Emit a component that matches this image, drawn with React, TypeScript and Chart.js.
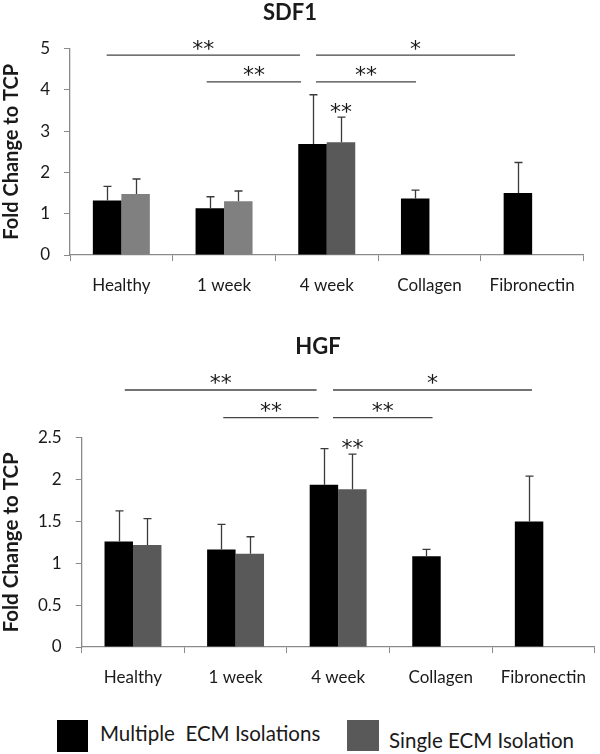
import React, { useEffect, useRef } from 'react';
import { Chart, registerables } from 'chart.js';

Chart.register(...registerables);

// ---------- data ----------
const categories = ['Healthy', '1 week', '4 week', 'Collagen', 'Fibronectin'];
const seriesNames = ['Multiple  ECM Isolations', 'Single ECM Isolation'];

const sdf1Multiple = [1.32, 1.13, 2.69, 1.37, 1.5];
const sdf1MultipleErr = [0.34, 0.28, 1.19, 0.2, 0.74];
const sdf1Single = [1.48, 1.3, 2.73, null, null];
const sdf1SingleErr = [0.36, 0.25, 0.61, null, null];
const sdf1Ticks = [0, 1, 2, 3, 4, 5];

const hgfMultiple = [1.26, 1.165, 1.937, 1.085, 1.5];
const hgfMultipleErr = [0.365, 0.3, 0.433, 0.08, 0.54];
const hgfSingle = [1.217, 1.113, 1.885, null, null];
const hgfSingleErr = [0.316, 0.204, 0.42, null, null];
const hgfTicks = [0, 0.5, 1, 1.5, 2, 2.5];

// significance brackets: from/to in category index units, y in data units
const sdf1Brackets = [
  { from: -0.143, to: 1.74, y: 4.84, label: '**' },
  { from: 1.896, to: 3.833, y: 4.84, label: '*' },
  { from: 0.831, to: 1.75, y: 4.19, label: '**' },
  { from: 1.896, to: 2.869, y: 4.19, label: '**' },
];
const sdf1Stars = [{ category: 2, dataset: 1, y: 3.56, label: '**' }];

const hgfBrackets = [
  { from: -0.08, to: 1.79, y: 3.07, label: '**' },
  { from: 1.95, to: 3.89, y: 3.07, label: '*' },
  { from: 0.88, to: 1.81, y: 2.74, label: '**' },
  { from: 1.95, to: 2.92, y: 2.74, label: '**' },
];
const hgfStars = [{ category: 2, dataset: 1, y: 2.43, label: '**' }];

// ---------- styling ----------
const FONT = 'Lato, "Open Sans", sans-serif';
const STAR_FONT = '"DejaVu Sans", sans-serif';
const TEXT = '#1a1a1a';
const AXIS = '#8a8a8a';
const ERR = '#3a3a3a';

type Bracket = { from: number; to: number; y: number; label: string };
type Star = { category: number; dataset: number; y: number; label: string };

function drawStar(ctx: CanvasRenderingContext2D, text: string, x: number, cy: number) {
  ctx.font = `22px ${STAR_FONT}`;
  ctx.fillStyle = TEXT;
  ctx.textAlign = 'center';
  ctx.textBaseline = 'alphabetic';
  const m = ctx.measureText(text);
  const asc = m.actualBoundingBoxAscent;
  const desc = m.actualBoundingBoxDescent;
  ctx.fillText(text, x, cy + (asc - desc) / 2);
}

function makeOverlay(
  errors: (number | null)[][],
  brackets: Bracket[],
  stars: Star[],
  title: { text: string; x: number; y: number }
) {
  return {
    id: 'overlay',
    afterDatasetsDraw(chart: any) {
      const ctx: CanvasRenderingContext2D = chart.ctx;
      const xs = chart.scales.x;
      const ys = chart.scales.y;
      ctx.save();
      // error bars (upper only)
      chart.data.datasets.forEach((ds: any, di: number) => {
        const meta = chart.getDatasetMeta(di);
        meta.data.forEach((el: any, i: number) => {
          const v = ds.data[i];
          const e = errors[di][i];
          if (v == null || e == null) return;
          const px = Math.round(el.x) + 0.5;
          const top = ys.getPixelForValue(v + e);
          ctx.strokeStyle = ERR;
          ctx.lineWidth = 1.3;
          ctx.beginPath();
          ctx.moveTo(px, el.y);
          ctx.lineTo(px, top);
          ctx.moveTo(px - 4, top);
          ctx.lineTo(px + 4, top);
          ctx.stroke();
        });
      });
      // brackets
      brackets.forEach((b) => {
        const x1 = xs.getPixelForValue(b.from);
        const x2 = xs.getPixelForValue(b.to);
        const y = ys.getPixelForValue(b.y);
        ctx.strokeStyle = '#444';
        ctx.lineWidth = 1.3;
        ctx.beginPath();
        ctx.moveTo(x1, y);
        ctx.lineTo(x2, y);
        ctx.stroke();
        drawStar(ctx, b.label, (x1 + x2) / 2, y - 10.5);
      });
      // stars above bars
      stars.forEach((s) => {
        const el = chart.getDatasetMeta(s.dataset).data[s.category];
        drawStar(ctx, s.label, el.x, ys.getPixelForValue(s.y));
      });
      // title
      ctx.font = `bold 22px ${FONT}`;
      ctx.fillStyle = TEXT;
      ctx.textAlign = 'center';
      ctx.textBaseline = 'middle';
      ctx.fillText(title.text, title.x, title.y);
      ctx.restore();
    },
  };
}

type PanelProps = {
  top: number;
  height: number;
  multiple: (number | null)[];
  single: (number | null)[];
  multipleErr: (number | null)[];
  singleErr: (number | null)[];
  singleColors: string[];
  ticks: number[];
  brackets: Bracket[];
  stars: Star[];
  title: { text: string; x: number; y: number };
  pad: { top: number; right: number };
  yWidth: number;
  yTitlePad: number;
  yTitleSize: number;
};

function Panel(p: PanelProps) {
  const ref = useRef<HTMLCanvasElement>(null);
  useEffect(() => {
    if (!ref.current) return;
    const step = p.ticks[1] - p.ticks[0];
    const chart = new Chart(ref.current, {
      type: 'bar',
      data: {
        labels: categories,
        datasets: [
          {
            label: seriesNames[0],
            data: p.multiple as any,
            backgroundColor: '#000000',
            borderWidth: 0,
            categoryPercentage: 0.555,
            barPercentage: 1.0,
          },
          {
            label: seriesNames[1],
            data: p.single as any,
            backgroundColor: p.singleColors,
            borderWidth: 0,
            categoryPercentage: 0.555,
            barPercentage: 1.0,
          },
        ],
      },
      options: {
        animation: false,
        responsive: false,
        devicePixelRatio: 1,
        layout: { padding: { top: p.pad.top, right: p.pad.right, left: 0, bottom: 0 } },
        plugins: {
          legend: { display: false },
          tooltip: { enabled: false },
          title: { display: false },
        },
        scales: {
          x: {
            grid: {
              display: true,
              drawOnChartArea: false,
              drawTicks: true,
              tickLength: 6,
              color: AXIS,
              offset: true,
            },
            border: { color: AXIS, width: 1.3 },
            ticks: { font: { family: FONT, size: 17 }, color: TEXT, padding: 14, maxRotation: 0 },
            afterFit: (s: any) => {
              s.height = 45;
            },
          },
          y: {
            min: p.ticks[0],
            max: p.ticks[p.ticks.length - 1],
            ticks: {
              stepSize: step,
              font: { family: FONT, size: 17 },
              color: TEXT,
              padding: 14,
              callback: (v: any) => String(Number(v)),
            },
            grid: {
              display: true,
              drawOnChartArea: false,
              drawTicks: true,
              tickLength: 6,
              color: AXIS,
            },
            border: { color: AXIS, width: 1.3 },
            title: {
              display: true,
              text: 'Fold Change to TCP',
              font: { family: FONT, size: p.yTitleSize, weight: 'bold' },
              color: TEXT,
              padding: { top: p.yTitlePad, bottom: 0 },
            },
            afterFit: (s: any) => {
              s.width = p.yWidth;
            },
          },
        },
      },
      plugins: [makeOverlay([p.multipleErr, p.singleErr], p.brackets, p.stars, p.title)],
    } as any);
    return () => chart.destroy();
  }, []);
  return (
    <canvas
      ref={ref}
      width={600}
      height={p.height}
      style={{ position: 'absolute', left: 0, top: p.top, width: 600, height: p.height, display: 'block' }}
    />
  );
}

export default function App() {
  const legendText: React.CSSProperties = {
    position: 'absolute',
    fontFamily: FONT,
    fontSize: 20.5,
    color: TEXT,
    whiteSpace: 'pre',
    lineHeight: '22px',
  };
  return (
    <div style={{ position: 'absolute', left: 0, top: 0, width: 600, height: 754, background: '#fff', overflow: 'hidden' }}>
      <Panel
        top={0}
        height={300}
        multiple={sdf1Multiple}
        single={sdf1Single}
        multipleErr={sdf1MultipleErr}
        singleErr={sdf1SingleErr}
        singleColors={['#808080', '#808080', '#595959', '#595959', '#595959']}
        ticks={sdf1Ticks}
        brackets={sdf1Brackets}
        stars={sdf1Stars}
        title={{ text: 'SDF1', x: 290, y: 13 }}
        pad={{ top: 48.5, right: 16.5 }}
        yWidth={70}
        yTitlePad={0}
        yTitleSize={20}
      />
      <Panel
        top={320}
        height={372}
        multiple={hgfMultiple}
        single={hgfSingle}
        multipleErr={hgfMultipleErr}
        singleErr={hgfSingleErr}
        singleColors={['#595959', '#595959', '#595959', '#595959', '#595959']}
        ticks={hgfTicks}
        brackets={hgfBrackets}
        stars={hgfStars}
        title={{ text: 'HGF', x: 318, y: 27 }}
        pad={{ top: 117.7, right: 1 }}
        yWidth={81.7}
        yTitlePad={-1}
        yTitleSize={20.5}
      />
      <div style={{ position: 'absolute', left: 57, top: 720, width: 31, height: 32, background: '#000' }} />
      <div style={{ ...legendText, left: 100, top: 722 }}>{seriesNames[0]}</div>
      <div style={{ position: 'absolute', left: 347, top: 720, width: 32, height: 31, background: '#595959' }} />
      <div style={{ ...legendText, left: 389, top: 729 }}>{seriesNames[1]}</div>
    </div>
  );
}
